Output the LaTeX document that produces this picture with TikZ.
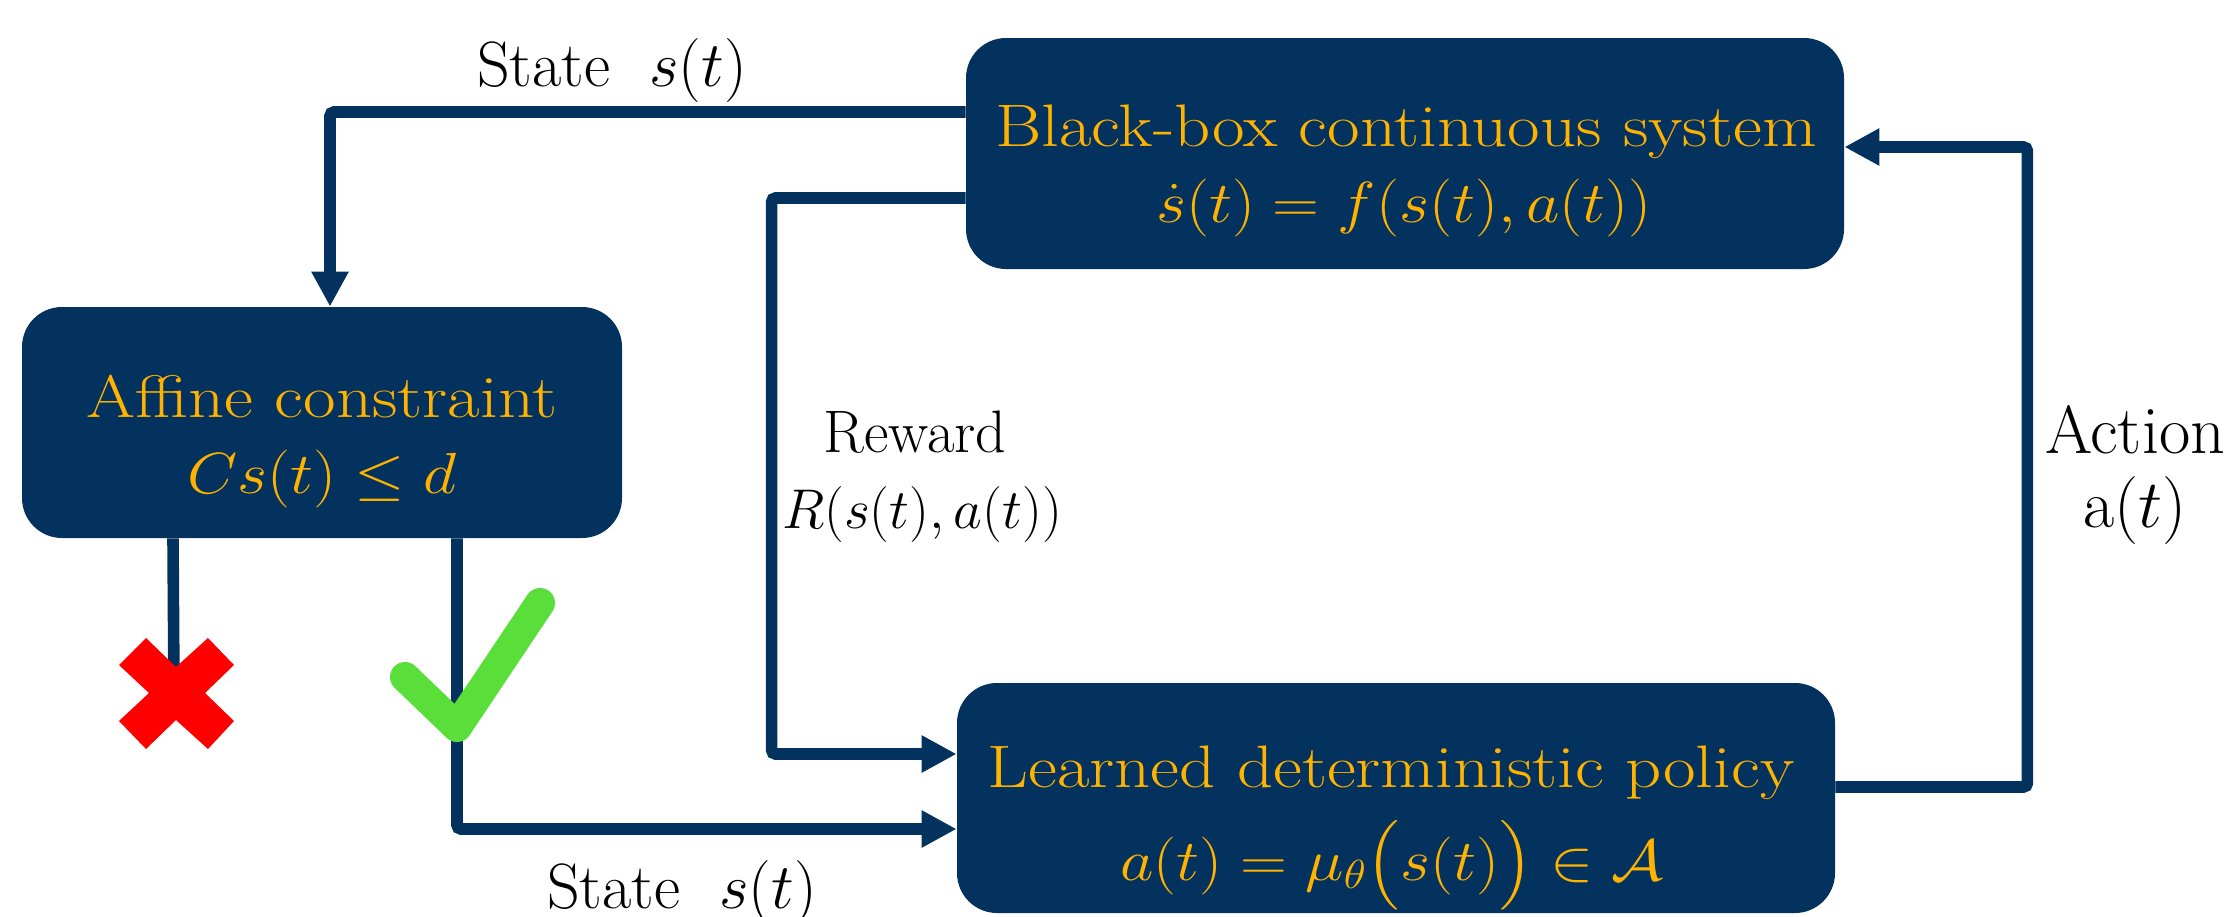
\RequirePackage{fix-cm}
\documentclass[tikz,border=0pt]{standalone}
\usepackage{amsmath}
\usepackage{graphicx}
\usetikzlibrary{arrows.meta,calc}
\definecolor{navy}{RGB}{3,50,94}
\definecolor{gold}{RGB}{255,178,0}
\definecolor{chk}{RGB}{90,222,58}
\newcommand{\boxwide}[1]{\scalebox{1.18}[1]{#1}}
\newcommand{\mathwide}[1]{\scalebox{1.12}[1]{#1}}
\begin{document}
\begin{tikzpicture}[x=0.5pt,y=-0.5pt,
  blk/.style={draw=none, fill=navy, rounded corners=20pt, inner sep=0pt},
  boxtxt/.style={text=gold, font=\fontsize{30}{35}\selectfont, anchor=base, inner sep=0pt},
  boxmath/.style={text=gold, font=\fontsize{29}{34}\selectfont, anchor=base, inner sep=0pt},
  lbl/.style={text=black, font=\fontsize{28}{33}\selectfont, anchor=base, inner sep=0pt},
  conn/.style={draw=navy, line width=5.8pt, rounded corners=2pt},
  tip/.style={-{Triangle[length=17.5pt,width=17.5pt]}}]
\useasboundingbox (0,0) rectangle (2238,916);

% boxes
\node[blk, minimum width=439pt, minimum height=115.5pt] (sys) at (1405,153.5) {};
\node[blk, minimum width=300pt, minimum height=115.5pt] (aff) at (322,422.5) {};
\node[blk, minimum width=439pt, minimum height=115pt] (pol) at (1396,798) {};

% box texts
\node[boxtxt] (sys1) at (1406,146) {\boxwide{Black-box continuous system}};
\node[boxmath] (sys2) at (1404,222) {\mathwide{$\dot{s}(t)=f(s(t),a(t))$}};
\node[boxtxt] (aff1) at (322,417) {\boxwide{Affine constraint}};
\node[boxmath] (aff2) at (322,493) {\mathwide{$Cs(t)\le d$}};
\node[boxtxt] (pol1) at (1391,787) {\boxwide{Learned deterministic policy}};
\node[boxmath] (pol2) at (1392,880) {\mathwide{$a(t)=\mu_\theta\bigl(s(t)\bigr)\in\mathcal{A}$}};

% labels
\node[lbl, font=\fontsize{32}{38}\selectfont] (st1) at (612,86) {State\ \ $s(t)$};
\node[lbl, font=\fontsize{30}{36}\selectfont] (rw1) at (915,452) {Reward};
\node[lbl] (rw2) at (922,528) {$R(s(t),a(t))$};
\node[lbl, font=\fontsize{34}{40}\selectfont] (ac1) at (2135,453) {Action};
\node[lbl, font=\fontsize{34}{40}\selectfont] (ac2) at (2135,527) {a$(t)$};
\node[lbl, font=\fontsize{32}{38}\selectfont] (st2) at (682,908) {State\ \ $s(t)$};

% connectors
\draw[conn,tip] ($(sys.west)+(0,-41.5)$) -| ($(aff.north)+(8,0)$);
\draw[conn,tip] ($(sys.west)+(0,44.5)$) -| ($(pol.west)+(-185,-44)$) -- ($(pol.west)+(0,-44)$);
\draw[conn,tip] ($(aff.south)+(135,0)$) |- ($(pol.west)+(0,31)$);
\draw[conn,tip] ($(pol.east)+(0,-11)$) -| ($(sys.east)+(183,-6.5)$) -- ($(sys.east)+(0,-6.5)$);
\coordinate (xc) at (174,690);
\draw[conn] ($(aff.south)+(-149,0)$) -- (xc);

% reject mark
\fill[red] (119,665) -- (146,638) -- (176,667) -- (208,638) -- (234,665) -- (205,693)
  -- (234,721) -- (208,749) -- (176,720) -- (146,749) -- (119,721) -- (149,693) -- cycle;
% accept mark
\draw[chk, line width=15pt, line cap=round, line join=round] (405,677) -- (457,727) -- (540,603);
\end{tikzpicture}
\end{document}
